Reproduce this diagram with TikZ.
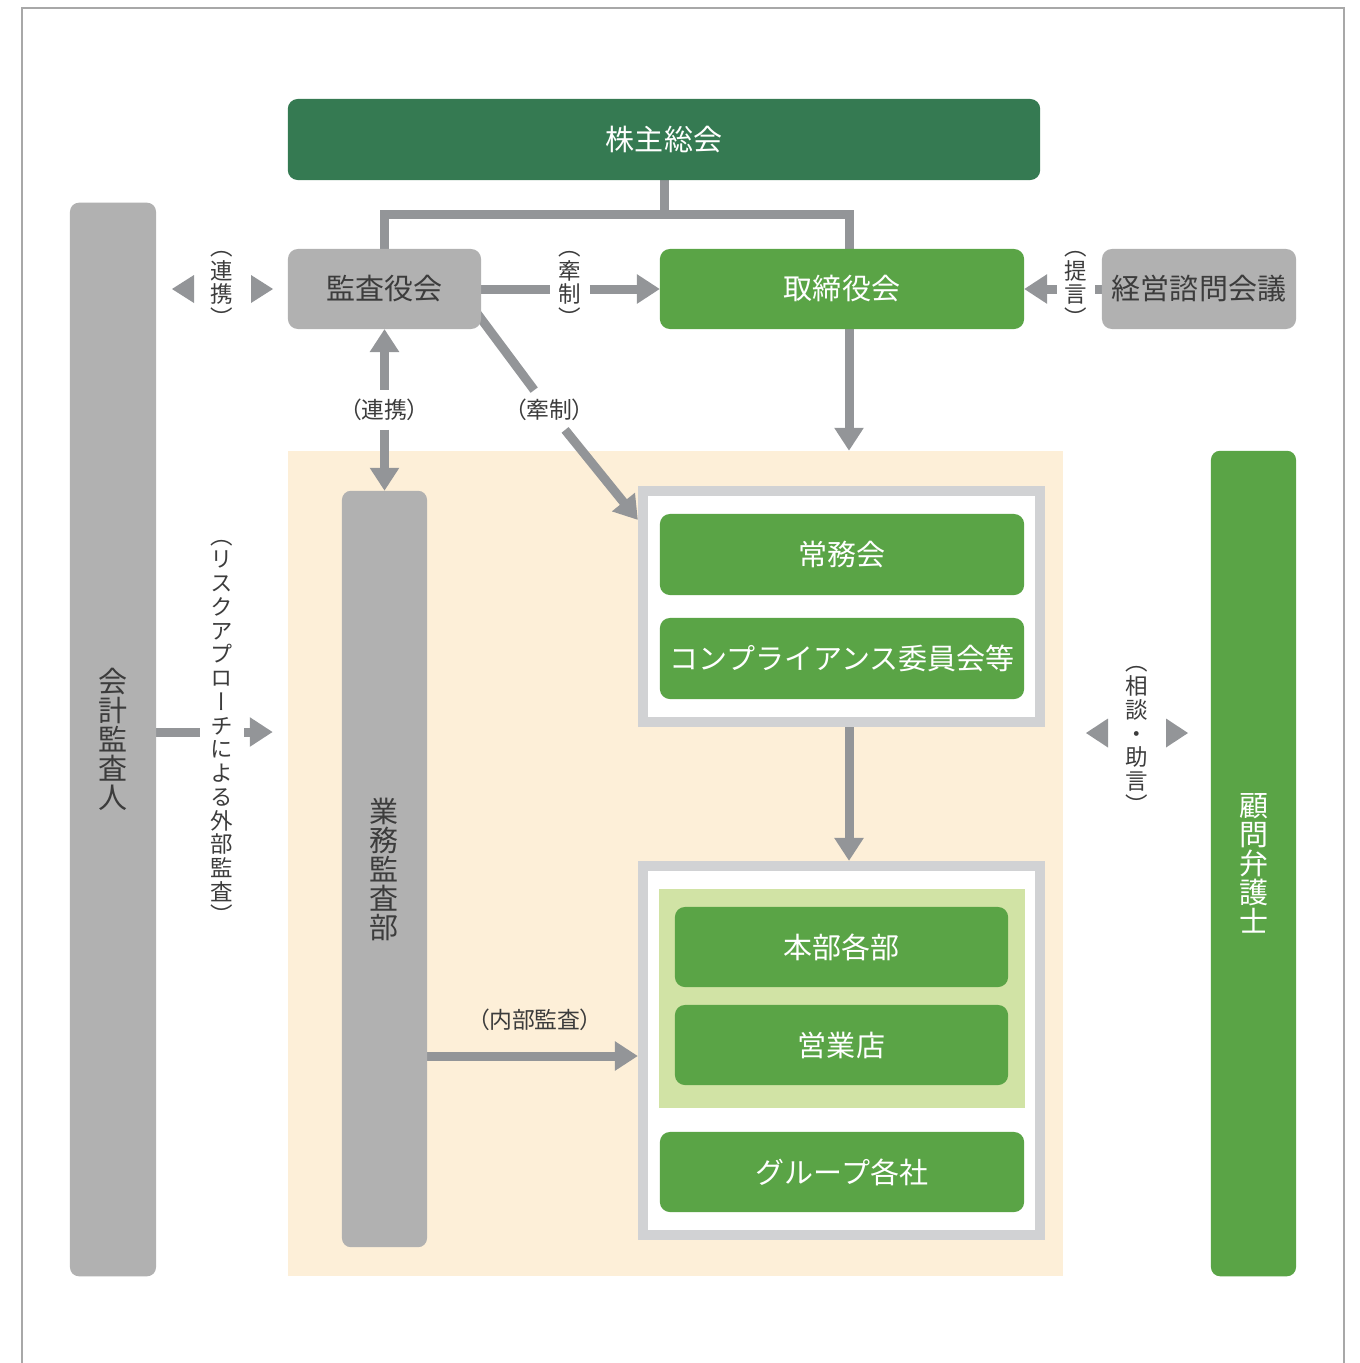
\documentclass[tikz,border=0pt]{standalone}
\usepackage{fontspec}
\setmainfont{Noto Sans CJK JP}
% vertical glyph forms (rotated brackets, vertical long-vowel bar)
\newfontfamily\jpvert[RawFeature=+vert]{Noto Sans CJK JP}
% proportional brackets for small horizontal labels
\newfontfamily\jplabel[RawFeature=+palt]{Noto Sans CJK JP}
\usetikzlibrary{arrows.meta,calc}

\definecolor{deepgreen}{HTML}{357A52}
\definecolor{leafgreen}{HTML}{5AA446}
\definecolor{palegreen}{HTML}{D1E3A5}
\definecolor{boxgray}{HTML}{B1B1B1}
\definecolor{linegray}{HTML}{939598}
\definecolor{framegray}{HTML}{D1D2D4}
\definecolor{cream}{HTML}{FDEFD8}
\definecolor{inkgray}{HTML}{3C3C3C}
\definecolor{edgegray}{HTML}{A8A8A8}

\newcommand\bigtext{\fontsize{8.25}{8.25}\selectfont}
\newcommand\smalltext{\fontsize{6.5}{6.5}\selectfont}
\newcommand\stacktext{\fontsize{6.4}{6.75}\selectfont}

\pgfdeclarelayer{bg}
\pgfdeclarelayer{lines}
\pgfsetlayers{bg,lines,main}

\begin{document}
\begin{tikzpicture}[x=0.01cm,y=-0.01cm,
  every node/.style={inner sep=0pt,outer sep=0pt},
  greenbox/.style={fill=leafgreen,text=white,rounded corners=0.1cm,font=\bigtext},
  darkbox/.style={fill=deepgreen,text=white,rounded corners=0.1cm,font=\bigtext},
  graybox/.style={fill=boxgray,text=inkgray,rounded corners=0.1cm,font=\bigtext},
  column/.style={rounded corners=0.09cm,font=\bigtext,align=center},
  whiteframe/.style={draw=framegray,line width=0.1cm,fill=white,outer sep=0.05cm},
  conn/.style={draw=linegray,line width=0.09cm},
  tipto/.style={-{Triangle[length=0.23cm,width=0.28cm]}},
  tipfrom/.style={{Triangle[length=0.23cm,width=0.28cm]}-},
  vlabel/.style={font=\jpvert\stacktext,text=inkgray,align=center},
  hlabel/.style={font=\jplabel\smalltext,text=inkgray},
  tiptri/.style={fill=linegray}]

\useasboundingbox (0,0) rectangle (1360,1363);

% page edge
\draw[edgegray,line width=0.02cm] (22,1363) -- (22,8) -- (1344,8) -- (1344,1363);

% executive area
\begin{pgfonlayer}{bg}
  \node[fill=cream,minimum width=7.75cm,minimum height=8.25cm] (zone) at (675.5,863.5) {};
\end{pgfonlayer}

% top level bodies
\node[darkbox,minimum width=7.52cm,minimum height=0.81cm] (kabu) at (664,139.5) {株主総会};
\node[graybox,minimum width=1.93cm,minimum height=0.80cm] (kansa) at (384.5,289) {監査役会};
\node[greenbox,minimum width=3.64cm,minimum height=0.80cm] (tori) at (842,289) {取締役会};
\node[graybox,minimum width=1.94cm,minimum height=0.80cm] (keiei) at (1199,289) {経営諮問会議};

% side columns
\node[column,fill=boxgray,text=inkgray,minimum width=0.86cm,minimum height=10.73cm] (kaikei) at (113,739.5) {会\\計\\監\\査\\人};
\node[column,fill=leafgreen,text=white,minimum width=0.85cm,minimum height=8.25cm] (komon) at (1253.5,863.5) {顧\\問\\弁\\護\\士};
\node[column,fill=boxgray,text=inkgray,minimum width=0.85cm,minimum height=7.56cm] (gyomu) at (384.5,869) {業\\務\\監\\査\\部};

% committees
\node[whiteframe,minimum width=3.97cm,minimum height=2.31cm] (box1) at (841.5,606.5) {};
\node[greenbox,minimum width=3.64cm,minimum height=0.81cm] (jomu) at (842,554.5) {常務会};
\node[greenbox,minimum width=3.64cm,minimum height=0.81cm] (comp) at (842,658.5) {コンプライアンス委員会等};

% business units
\node[whiteframe,minimum width=3.97cm,minimum height=3.69cm] (box2) at (841.5,1050.5) {};
\node[fill=palegreen,minimum width=3.66cm,minimum height=2.19cm] (pale) at (842,998.5) {};
\node[greenbox,minimum width=3.33cm,minimum height=0.80cm] (honbu) at (841.5,947) {本部各部};
\node[greenbox,minimum width=3.33cm,minimum height=0.80cm] (eigyo) at (841.5,1045) {営業店};
\node[greenbox,minimum width=3.64cm,minimum height=0.80cm] (group) at (842,1172) {グループ各社};

% connector labels
\node[vlabel] (lblA) at (222,289) {（\\連\\携\\）};
\node[vlabel,inner xsep=0.085cm] (lblB) at (570,289) {（\\牽\\制\\）};
\node[vlabel,inner xsep=0.08cm] (lblF) at (1076,289) {（\\提\\言\\）};
\node[hlabel,inner ysep=0.09cm] (lblC) at (384.5,410) {（連携）};
\node[hlabel,inner ysep=0.09cm] (lblG) at (549,410) {（牽制）};
\node[vlabel,inner xsep=0.11cm] (lblD) at (222,732) {（\\リ\\ス\\ク\\ア\\プ\\ロ\\ー\\チ\\に\\よ\\る\\外\\部\\監\\査\\）};
\node[vlabel] (lblE) at (1137,740) {（\\相\\談\\・\\助\\言\\）};

\begin{pgfonlayer}{lines}
  % shareholders to both boards
  \coordinate (bus) at ($(kabu.south)+(0,34)$);
  \coordinate (trcol) at ($(tori.north)+(7,0)$);
  \draw[conn] (kabu.south) -- (bus);
  \draw[conn] (kansa.north) |- (bus) -| (trcol);

  % audit board checks the board of directors
  \draw[conn] (kansa.east) -- (lblB);
  \draw[conn,tipto] (lblB) -- (tori.west);

  % advisory council proposals
  \draw[conn] (keiei.west) -- (lblF);
  \draw[conn,tipto] (lblF) -- (tori.east);

  % board of directors down to the executive area
  \draw[conn,tipto] (tori.south -| trcol) -- (zone.north -| trcol);

  % cooperation with internal audit
  \draw[conn,tipfrom] (kansa.south) -- (lblC);
  \draw[conn,tipto] (lblC) -- (gyomu.north);

  % audit board checks the committees
  \coordinate (dstart) at ($(kansa.south east)+(-5,-17)$);
  \coordinate (dtip) at ($(box1.north west)+(0,34)$);
  \draw[conn] (dstart) -- (lblG);
  \draw[conn,tipto] (lblG) -- (dtip);

  % committees to business units
  \draw[conn,tipto] (box1.south -| trcol) -- (box2.north -| trcol);

  % internal audit
  \coordinate (ia) at ($(gyomu.east)+(0,187)$);
  \draw[conn,tipto] (ia) -- (ia -| box2.west)
    node[midway,hlabel,xshift=0.025cm,yshift=0.36cm] (lblH) {（内部監査）};

  % external audit
  \draw[conn] (kaikei.east |- lblD) -- (lblD);
  \draw[conn,tipto] (lblD) -- ($(zone.west |- lblD)+(-15,0)$);
\end{pgfonlayer}

% two-way cooperation marks
\fill[tiptri] ($(lblA.center)+(-50,0)$) -- ++(22,-14) -- ++(0,28) -- cycle;
\fill[tiptri] ($(lblA.center)+(51,0)$) -- ++(-22,-14) -- ++(0,28) -- cycle;
\fill[tiptri] ($(lblE.center)+(-51,-7)$) -- ++(22,-14.5) -- ++(0,29) -- cycle;
\fill[tiptri] ($(lblE.center)+(51,-7)$) -- ++(-22,-14.5) -- ++(0,29) -- cycle;

\end{tikzpicture}
\end{document}
